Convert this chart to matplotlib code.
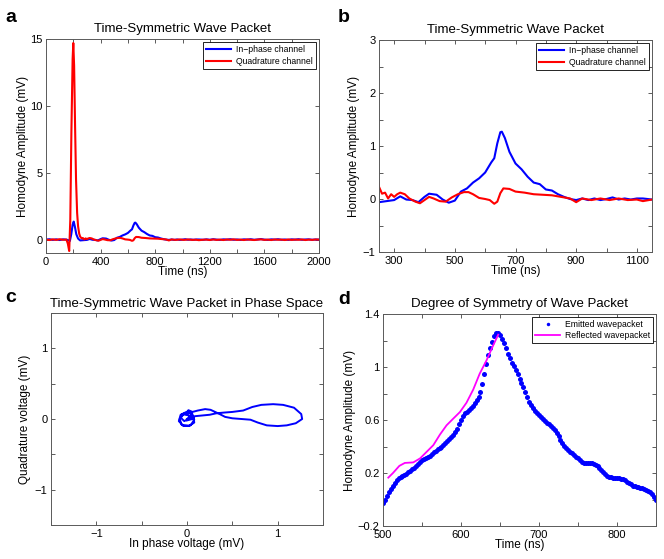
import matplotlib
matplotlib.use("Agg")
import matplotlib.pyplot as plt

plt.rcParams['font.family'] = ['Liberation Sans', 'DejaVu Sans']

# ---- panel a/b: homodyne traces (time in ns, amplitude in mV)
t_inphase = [0, 25, 50, 75, 100, 125, 150, 165, 175, 185, 195, 203, 212, 222, 235,
             250, 275, 300, 320, 340, 360, 380, 400, 415, 440, 460, 480, 500, 520,
             540, 560, 580, 600, 620, 630, 640, 650, 655, 665, 680, 700, 720, 740,
             760, 780, 800, 820, 840, 860, 880, 900, 920, 940, 960, 980, 1000, 1020,
             1040, 1060, 1080, 1100, 1120, 1150, 1175, 1200, 1225, 1250, 1275, 1300,
             1325, 1350, 1375, 1400, 1425, 1450, 1475, 1500, 1525, 1550, 1575, 1600,
             1625, 1650, 1675, 1700, 1725, 1750, 1775, 1800, 1825, 1850, 1875, 1900,
             1925, 1950, 1975, 2000]
v_inphase = [0.0, 0.03, -0.02, 0.02, -0.03, 0.02, 0.0, -0.05, -0.1, 0.4, 1.1, 1.35, 0.95, 0.4, 0.08,
             -0.06, -0.04, -0.02, 0.05, -0.01, -0.02, -0.06, 0.04, 0.10, 0.08, -0.01, -0.07, -0.03, 0.14,
             0.2, 0.31, 0.39, 0.5, 0.69, 0.77, 1.05, 1.26, 1.27, 1.15, 0.89, 0.67, 0.56, 0.42,
             0.31, 0.28, 0.18, 0.16, 0.09, 0.04, 0.0, -0.02, 0.01, -0.02, 0.01, -0.02, 0.0, 0.03,
             -0.01, 0.01, -0.01, 0.01, 0.01, -0.01, 0.02, -0.01, 0.03, 0.0, -0.02, 0.02,
             0.0, 0.03, -0.01, 0.01, -0.02, 0.02, 0.0, 0.03, -0.01, 0.01, 0.04, 0.0,
             -0.02, 0.02, 0.0, 0.03, -0.01, 0.01, -0.02, 0.02, 0.0, 0.03, -0.01, 0.01,
             0.02, -0.01, 0.01, 0.0]

t_quad = [0, 25, 50, 75, 100, 125, 150, 160, 170, 178, 186, 195, 200, 206, 213, 220, 228,
          235, 243, 250, 260, 270, 280, 290, 300, 310, 320, 335, 350, 370, 385, 400, 415,
          430, 450, 470, 490, 510, 530, 545, 560, 580, 600, 615, 630, 640, 650, 660, 680,
          700, 730, 760, 790, 820, 850, 880, 900, 920, 950, 980, 1010, 1040, 1070, 1100,
          1120, 1150, 1175, 1200, 1225, 1250, 1275, 1300, 1325, 1350, 1375, 1400, 1425,
          1450, 1475, 1500, 1525, 1550, 1575, 1600, 1625, 1650, 1675, 1700, 1725, 1750,
          1775, 1800, 1825, 1850, 1875, 1900, 1925, 1950, 1975, 2000]
v_quad = [0.0, -0.03, 0.02, -0.02, 0.03, -0.01, 0.0, -0.3, -0.85, 1.5, 8.0, 13.5, 14.7, 13.0, 8.5, 4.5, 2.0,
          1.0, 0.45, 0.23, 0.1, 0.12, 0.01, 0.09, 0.04, 0.09, 0.12, 0.09, 0.01, -0.05, -0.08, -0.02, 0.04,
          0.01, -0.04, -0.05, 0.03, 0.09, 0.13, 0.13, 0.09, 0.02, 0.0, -0.02, -0.09, -0.05, 0.11, 0.2, 0.19,
          0.14, 0.12, 0.09, 0.08, 0.07, 0.04, 0.01, -0.06, 0.01, -0.02, 0.01, -0.02, 0.01, -0.02, -0.01,
          -0.04, -0.01, 0.0, -0.03, 0.01, -0.02, 0.0, -0.03, 0.01, -0.01, 0.02, -0.02, 0.0,
          -0.03, 0.01, -0.01, -0.03, 0.0, 0.02, -0.02, 0.0, -0.03, 0.01, -0.01, 0.0, -0.03,
          0.01, -0.02, 0.0, -0.01, 0.01, -0.03, 0.0, -0.02, 0.01, 0.0]

# ---- panel c: phase-space trajectory (mV)
i_phase = [0.0, 0.06, 0.01, -0.07, -0.09, -0.04, 0.04, 0.08, 0.05, -0.03, -0.08, -0.06, 0.02,
           0.08, 0.07, 0.015, 0.06, 0.12, 0.2, 0.26, 0.31, 0.36, 0.42, 0.5, 0.6, 0.7, 0.78,
           0.88, 1.0, 1.1, 1.2, 1.27, 1.26, 1.18, 1.06, 0.95, 0.82, 0.72, 0.62, 0.5, 0.4,
           0.32, 0.25, 0.17, 0.09, 0.03, -0.03, -0.07, -0.05, 0.02, 0.06, 0.0]
q_phase = [0.0, 0.07, 0.11, 0.06, -0.03, -0.1, -0.09, -0.01, 0.08, 0.08, 0.0, -0.08, -0.1,
           -0.05, 0.04, 0.125, 0.1, 0.12, 0.14, 0.13, 0.1, 0.07, 0.03, 0.01, 0.0, -0.01, -0.05,
           -0.09, -0.1, -0.09, -0.06, 0.0, 0.07, 0.16, 0.2, 0.21, 0.2, 0.17, 0.12, 0.1, 0.09,
           0.08, 0.06, 0.05, 0.04, 0.01, -0.03, 0.02, 0.07, 0.05, 0.0, -0.02]

# ---- panel d: emitted (sampled every 2.5 ns from 500 ns) vs reflected wavepacket
v_emit = [-0.03, 0.0, 0.03, 0.055, 0.08, 0.105, 0.125, 0.145, 0.16, 0.168,
          0.175, 0.185, 0.195, 0.205, 0.215, 0.228, 0.24, 0.255, 0.27, 0.283,
          0.295, 0.305, 0.315, 0.322, 0.33, 0.342, 0.355, 0.368, 0.38, 0.39,
          0.40, 0.412, 0.425, 0.44, 0.455, 0.472, 0.49, 0.512, 0.535, 0.57,
          0.6, 0.628, 0.65, 0.663, 0.675, 0.69, 0.705, 0.725, 0.75, 0.775,
          0.81, 0.87, 0.95, 1.02, 1.09, 1.14, 1.19, 1.235, 1.26, 1.258,
          1.245, 1.215, 1.18, 1.14, 1.1, 1.065, 1.03, 1.005, 0.98, 0.945,
          0.91, 0.88, 0.85, 0.81, 0.77, 0.735, 0.71, 0.69, 0.67, 0.655,
          0.64, 0.625, 0.61, 0.595, 0.58, 0.568, 0.555, 0.54, 0.525, 0.505,
          0.48, 0.452, 0.425, 0.405, 0.39, 0.375, 0.36, 0.348, 0.335, 0.322,
          0.31, 0.297, 0.285, 0.278, 0.275, 0.275, 0.275, 0.273, 0.27, 0.262,
          0.25, 0.236, 0.22, 0.205, 0.19, 0.178, 0.17, 0.167, 0.165, 0.163,
          0.162, 0.161, 0.158, 0.152, 0.145, 0.135, 0.125, 0.114, 0.105, 0.099,
          0.095, 0.092, 0.09, 0.086, 0.08, 0.073, 0.065, 0.053, 0.04, 0.02,
          0.0]
t_emit = [500 + 2.5 * i for i in range(len(v_emit))]
t_refl = [506.8, 512.8, 521, 528, 538.8, 547.5, 556, 564.5, 573, 581.5, 590, 598.6,
          607, 615.7, 624, 632.7, 641, 647.7]
v_refl = [0.165, 0.2, 0.254, 0.276, 0.28, 0.31, 0.36, 0.41, 0.49, 0.56, 0.61, 0.66,
          0.73, 0.83, 0.95, 1.05, 1.16, 1.244]

# tick positions / labels
a_xticks = list(range(0, 2001, 200))
a_xlabels = ['0', '', '400', '', '800', '', '1200', '', '1600', '', '2000']
a_yticks = [0, 5, 10, 15]
b_xticks = list(range(300, 1101, 100))
b_xlabels = ['300', '', '500', '', '700', '', '900', '', '1100']
b_yticks = [-1, -0.5, 0, 0.5, 1, 1.5, 2, 2.5, 3]
b_ylabels = ['\u22121', '', '0', '', '1', '', '2', '', '3']
c_ticks = [-1.5, -1, -0.5, 0, 0.5, 1, 1.5]
c_labels = ['', '\u22121', '', '0', '', '1', '']
d_xticks = list(range(500, 851, 50))
d_xlabels = ['500', '', '600', '', '700', '', '800', '']
d_yticks = [-0.2, 0, 0.2, 0.4, 0.6, 0.8, 1.0, 1.2, 1.4]
d_ylabels = ['\u22120.2', '', '0.2', '', '0.6', '', '1', '', '1.4']

W, H = 664, 559
fig = plt.figure(figsize=(W / 100, H / 100), dpi=100)


def box(l, t, r, b):
    return [l / W, 1 - b / H, (r - l) / W, (b - t) / H]


def style(ax):
    ax.tick_params(direction='in', top=True, right=True, length=3, width=0.6,
                   pad=2.5, labelsize=8, colors='0.25', labelcolor='black')
    ax.tick_params(axis='x', pad=3)
    for s in ax.spines.values():
        s.set_color('0.35')
        s.set_linewidth(0.7)


def legend(ax, handles, pad=0.4):
    leg = ax.legend(handles=handles, loc='upper right', fontsize=6.2, fancybox=False,
                    edgecolor='black', framealpha=1, borderpad=0.35, labelspacing=0.3,
                    handlelength=2.9, handletextpad=0.6, borderaxespad=pad, numpoints=1)
    leg.get_frame().set_linewidth(0.6)
    return leg


# a
ax = fig.add_axes(box(46, 39, 319, 253))
l1, = ax.plot(t_inphase, v_inphase, color='#0000ff', lw=1.5, label='In\u2212phase channel')
l2, = ax.plot(t_quad, v_quad, color='#ff0000', lw=1.5, label='Quadrature channel')
ax.set_xlim(0, 2000)
ax.set_ylim(-1, 15)
ax.set_xticks(a_xticks)
ax.set_xticklabels(a_xlabels)
ax.set_yticks(a_yticks)
style(ax)
ax.set_title('Time-Symmetric Wave Packet', fontsize=9.5, pad=5)
ax.set_xlabel('Time (ns)', fontsize=8.5, labelpad=-1)
ax.set_ylabel('Homodyne Amplitude (mV)', fontsize=8.5, labelpad=1)
legend(ax, [l1, l2])

# b
ax = fig.add_axes(box(379, 40, 652, 252))
l1, = ax.plot(t_inphase, v_inphase, color='#0000ff', lw=1.5, label='In\u2212phase channel')
l2, = ax.plot(t_quad, v_quad, color='#ff0000', lw=1.5, label='Quadrature channel')
ax.set_xlim(250, 1150)
ax.set_ylim(-1, 3)
ax.set_xticks(b_xticks)
ax.set_xticklabels(b_xlabels)
ax.set_yticks(b_yticks)
ax.set_yticklabels(b_ylabels)
style(ax)
ax.set_title('Time-Symmetric Wave Packet', fontsize=9.5, pad=5)
ax.set_xlabel('Time (ns)', fontsize=8.5, labelpad=-1)
ax.set_ylabel('Homodyne Amplitude (mV)', fontsize=8.5, labelpad=2)
legend(ax, [l1, l2])

# c
ax = fig.add_axes(box(51, 313, 323, 525))
ax.plot(i_phase, q_phase, color='#0000ff', lw=1.4)
ax.set_xlim(-1.5, 1.5)
ax.set_ylim(-1.5, 1.5)
ax.set_xticks(c_ticks)
ax.set_xticklabels(c_labels)
ax.set_yticks(c_ticks)
ax.set_yticklabels(c_labels)
style(ax)
ax.set_title('Time-Symmetric Wave Packet in Phase Space', fontsize=9.5, pad=4)
ax.set_xlabel('In phase voltage (mV)', fontsize=8.5, labelpad=-1)
ax.set_ylabel('Quadrature voltage (mV)', fontsize=8.5, labelpad=3)

# d
ax = fig.add_axes(box(383, 314, 656, 526))
l1, = ax.plot(t_emit, v_emit, 'o', color='#0000ff', ms=3.6, mew=0, label='Emitted wavepacket')
l2, = ax.plot(t_refl, v_refl, color='#ff00ff', lw=1.3, label='Reflected wavepacket')
ax.set_xlim(500, 850)
ax.set_ylim(-0.2, 1.4)
ax.set_xticks(d_xticks)
ax.set_xticklabels(d_xlabels)
ax.set_yticks(d_yticks)
ax.set_yticklabels(d_ylabels)
style(ax)
ax.set_title('Degree of Symmetry of Wave Packet', fontsize=9.5, pad=5)
ax.set_xlabel('Time (ns)', fontsize=8.5, labelpad=-1)
ax.set_ylabel('Homodyne Amplitude (mV)', fontsize=8.5, labelpad=1)
leg = legend(ax, [l1, l2], pad=0.3)
leg.legend_handles[0].set_markersize(2.5)

# panel letters
for x, y, s in [(5, 22, 'a'), (338, 22, 'b'), (5, 302, 'c'), (338, 304, 'd')]:
    fig.text(x / W, 1 - y / H, s, fontsize=14, fontweight='bold', ha='left', va='baseline')

fig.savefig('out.png', dpi=100)
